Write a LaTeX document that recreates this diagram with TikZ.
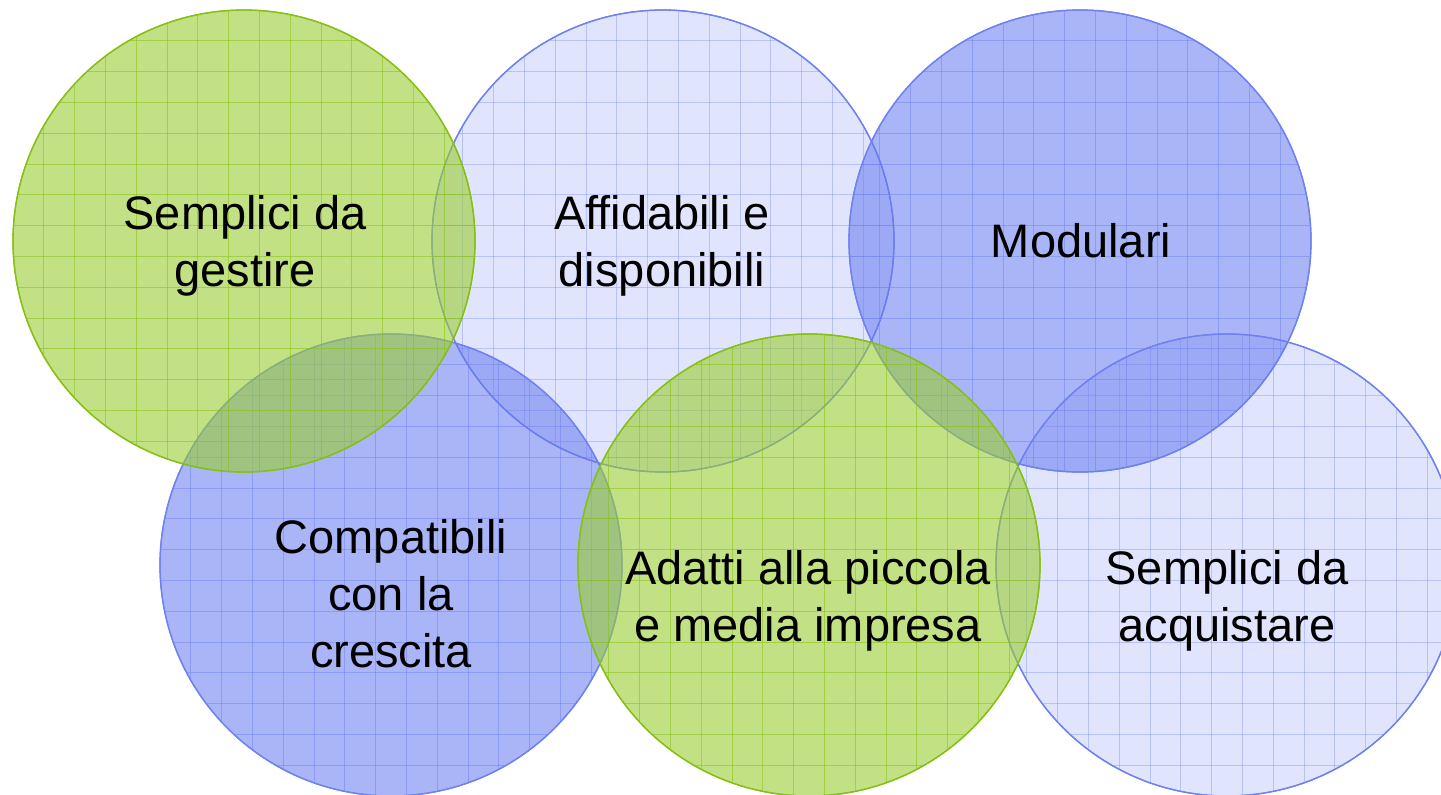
\documentclass[tikz,border=0pt]{standalone}
\usepackage{fontspec}
\setmainfont{Liberation Sans}
\definecolor{gfill}{RGB}{154,205,50}
\definecolor{gline}{RGB}{135,192,20}
\definecolor{bfill}{RGB}{100,120,240}
\definecolor{bline}{RGB}{112,130,240}
\tikzset{
  label text/.style={align=center, anchor=base, inner sep=0pt, text=black,
    font=\fontsize{47pt}{57pt}\selectfont},
  bubble/.style={circle, minimum size=462pt, inner sep=0pt, line width=1.3pt}
}
% #1 name, #2 cx, #3 cy, #4 fill colour, #5 fill opacity, #6 line colour, #7 grid opacity
\newcommand\mybubble[7]{%
  \node[bubble, fill=#4, fill opacity=#5, draw=#6] (#1) at (#2,#3) {};
  \begin{scope}
    \clip (#1.center) circle (230.5pt);
    \foreach \k in {1,...,14} {
      \draw[#6, line width=0.7pt, opacity=#7] (#2-231+\k*30.8,#3-231) -- ++(0,462);
      \draw[#6, line width=0.7pt, opacity=#7] (#2-231,#3-231+\k*30.8) -- ++(462,0);
    }
  \end{scope}
  \draw[#6, line width=1.3pt] (#1.center) circle (231pt);
}
\begin{document}
\begin{tikzpicture}[x=1pt,y=-1pt]
\useasboundingbox (0,0) rectangle (1441,795);
\mybubble{c2}{663}{241}{bfill}{0.2}{bline}{0.35}
\mybubble{c3}{1080}{241}{bfill}{0.55}{bline}{0.5}
\mybubble{c4}{391}{565}{bfill}{0.55}{bline}{0.5}
\mybubble{c6}{1227}{565}{bfill}{0.2}{bline}{0.35}
\mybubble{c1}{244}{241}{gfill}{0.6}{gline}{0.55}
\mybubble{c5}{809}{565}{gfill}{0.6}{gline}{0.55}
\node[label text] (t1) at (245,286) {Semplici da\\gestire};
\node[label text] (t2) at (662,286) {Affidabili e\\disponibili};
\node[label text] (t3) at (1081,257) {Modulari};
\node[label text] (t4) at (391,667) {Compatibili\\con la\\crescita};
\node[label text] (t5) at (808,641) {Adatti alla piccola\\e media impresa};
\node[label text] (t6) at (1227,641) {Semplici da\\acquistare};
\end{tikzpicture}
\end{document}
